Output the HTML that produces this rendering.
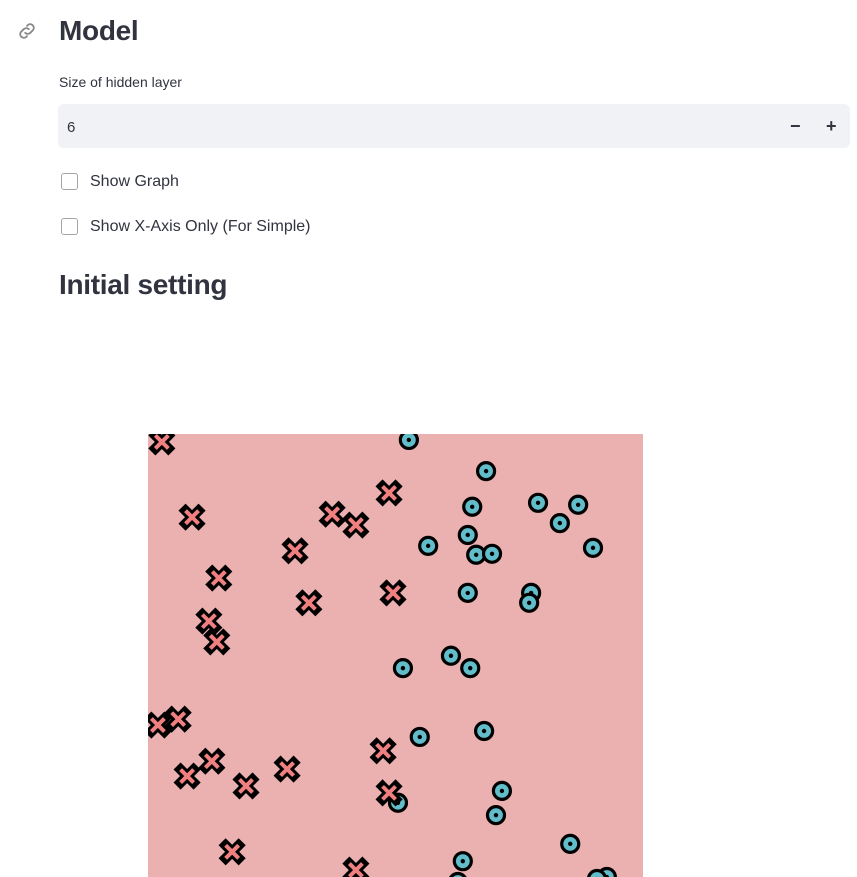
<!DOCTYPE html>
<html><head><meta charset="utf-8">
<style>
html,body{margin:0;width:857px;height:877px;overflow:hidden}
body{background:#fff;font-family:"Liberation Sans",sans-serif;color:#31333f;position:relative}
.abs{position:absolute}
h1{margin:0;font-size:28px;font-weight:700;letter-spacing:-0.3px}
.cb{width:15px;height:15px;border:1px solid #a3a5ab;border-radius:3px;background:#fff}
.lbl{font-size:16px}
</style></head><body>
<svg class="abs" style="left:16px;top:20px" width="22" height="22" viewBox="0 0 24 24"><path d="M10 14a4 4 0 0 0 5.6 0l3-3a4 4 0 0 0-5.6-5.6l-1 1M14 10a4 4 0 0 0-5.6 0l-3 3a4 4 0 0 0 5.6 5.6l1-1" fill="none" stroke="#888" stroke-width="2" stroke-linecap="round"/></svg>
<h1 class="abs" style="left:59px;top:15px">Model</h1>
<div class="abs" style="left:59px;top:74px;font-size:14px">Size of hidden layer</div>
<div class="abs" style="left:58px;top:104px;width:792px;height:44px;background:#f0f2f6;border-radius:6px">
 <span class="abs" style="left:9px;top:15px;font-size:15px">6</span>
 <span class="abs" style="left:732px;top:12px;font-size:18px;font-weight:700">−</span>
 <span class="abs" style="left:768px;top:12px;font-size:18px;font-weight:700">+</span>
</div>
<div class="abs cb" style="left:61px;top:173px"></div>
<div class="abs lbl" style="left:90px;top:173px">Show Graph</div>
<div class="abs cb" style="left:61px;top:218px"></div>
<div class="abs lbl" style="left:90px;top:218px">Show X-Axis Only (For Simple)</div>
<h1 class="abs" style="left:59px;top:269px">Initial setting</h1>
<svg id="chart" class="abs" style="left:0;top:0" width="857" height="877"></svg>
<script>
const crossX=[0.28,0.89,3.72,4.20,4.87,2.97,1.43,3.25,4.95,1.23,1.39,0.20,0.61,1.29,0.79,1.98,2.81,4.75,4.87,1.70,4.20];
const crossY=[9.84,8.32,8.38,8.16,8.81,7.64,7.09,6.59,6.79,6.22,5.80,4.12,4.24,3.39,3.09,2.89,3.23,3.60,2.75,1.56,1.19];
const circX=[5.27,6.83,6.55,7.88,8.32,8.69,5.66,6.46,6.63,6.95,8.99,6.46,7.74,7.70,6.12,6.51,5.15,5.49,6.79,7.15,5.05,7.03,8.53,6.36,9.27,9.07,6.26];
const circY=[9.88,9.25,8.53,8.61,8.20,8.57,7.74,7.96,7.56,7.58,7.70,6.79,6.79,6.59,5.52,5.27,5.27,3.88,4.00,2.79,2.55,2.30,1.72,1.37,1.05,1.01,0.95];
const NS='http://www.w3.org/2000/svg';
const svg=document.getElementById('chart');
const sx=v=>148+v*49.5, sy=v=>929-v*49.5;
function mk(t,a){const e=document.createElementNS(NS,t);for(const k in a)e.setAttribute(k,a[k]);return e;}
const defs=mk('defs',{});const cp=mk('clipPath',{id:'clip'});cp.appendChild(mk('rect',{x:148,y:434,width:495,height:443}));defs.appendChild(cp);svg.appendChild(defs);
const bg=mk('rect',{x:148,y:434,width:495,height:443,fill:'#ebb0b0'});


svg.appendChild(bg);
const g=mk('g',{'clip-path':'url(#clip)'});svg.appendChild(g);
circX.forEach((x,i)=>{
 const c=mk('g',{transform:`translate(${sx(x)},${sy(circY[i])})`});
 
 
 c.appendChild(mk('circle',{r:8.5,fill:'#62bdcb',stroke:'#000','stroke-width':3.2}));
 c.appendChild(mk('circle',{r:2.2,fill:'#000'}));
 g.appendChild(c);
});
crossX.forEach((x,i)=>{
 const c=mk('g',{transform:`translate(${sx(x)},${sy(crossY[i])})`});
 
 
 const d='M-6.5,-6.5L6.5,6.5M6.5,-6.5L-6.5,6.5';
 c.appendChild(mk('path',{d,stroke:'#000','stroke-width':10,'stroke-linecap':'square'}));
 c.appendChild(mk('path',{d,stroke:'#f08080','stroke-width':4,'stroke-linecap':'butt'}));
 g.appendChild(c);
});
</script>
</body></html>
